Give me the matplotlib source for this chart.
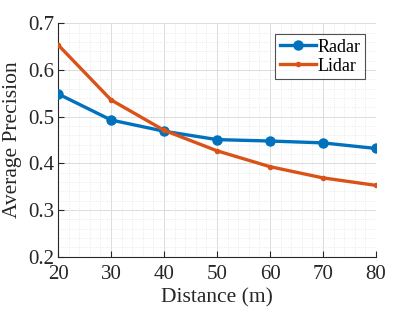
import matplotlib.pyplot as plt
from matplotlib.ticker import MultipleLocator

# Data
distance = [20, 30, 40, 50, 60, 70, 80]
radar_ap = [0.549, 0.493, 0.469, 0.451, 0.448, 0.444, 0.432]
lidar_ap = [0.654, 0.536, 0.471, 0.427, 0.393, 0.369, 0.353]

plt.rcParams['font.family'] = ['Liberation Serif', 'DejaVu Serif']

fig, ax = plt.subplots(figsize=(4.15, 3.12), dpi=100)
fig.subplots_adjust(left=0.14, right=0.906, top=0.925, bottom=0.177)

ax.plot(distance, radar_ap, color='#0072BD', lw=2.4, marker='o', ms=6.5, label='Radar', zorder=3)
ax.plot(distance, lidar_ap, color='#D95319', lw=2.4, marker='.', ms=6, label='Lidar', zorder=3)

ax.set_xlim(20, 80)
ax.set_ylim(0.2, 0.7)
ax.xaxis.set_major_locator(MultipleLocator(10))
ax.xaxis.set_minor_locator(MultipleLocator(2))
ax.yaxis.set_major_locator(MultipleLocator(0.1))
ax.yaxis.set_minor_locator(MultipleLocator(0.02))
ax.set_yticks([0.2, 0.3, 0.4, 0.5, 0.6, 0.7])
ax.set_yticklabels(['0.2', '0.3', '0.4', '0.5', '0.6', '0.7'])

ax.grid(which='major', color='#dcdcdc', lw=0.7)
ax.grid(which='minor', color='#e4e4e4', lw=0.6, ls=':')
ax.set_axisbelow(True)

for s in ['top', 'right']:
    ax.spines[s].set_visible(False)
for s in ['left', 'bottom']:
    ax.spines[s].set_color('#262626')
    ax.spines[s].set_linewidth(0.8)
ax.tick_params(which='both', direction='in', top=False, right=False, colors='#262626', labelsize=15)
ax.tick_params(which='minor', length=0)
ax.tick_params(which='major', length=4)
ax.tick_params(axis='x', pad=6)
ax.tick_params(axis='y', pad=3)

ax.set_xlabel('Distance (m)', fontsize=15.5, color='#262626', labelpad=3)
ax.set_ylabel('Average Precision', fontsize=15.5, color='#262626', labelpad=4)

leg = ax.legend(loc='upper right', fontsize=13, frameon=True, fancybox=False,
                handlelength=2.0, handletextpad=0.1, borderpad=0.25, labelspacing=0.1,
                borderaxespad=0.6)
leg.get_frame().set_edgecolor('#262626')
leg.get_frame().set_linewidth(0.8)

plt.savefig('out.png', dpi=100)
